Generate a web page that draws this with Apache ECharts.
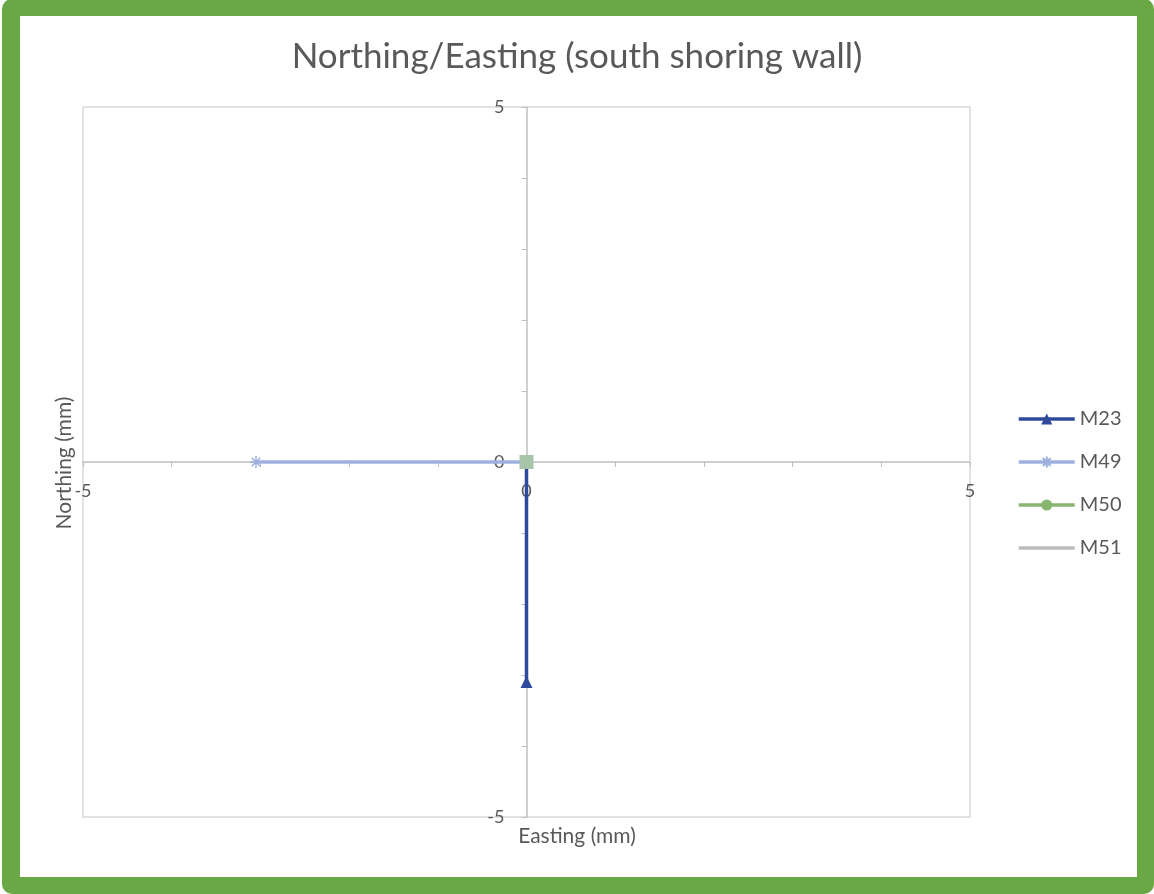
<!DOCTYPE html>
<html>
<head>
<meta charset="utf-8">
<script src="https://cdn.jsdelivr.net/npm/echarts@6/dist/echarts.min.js"></script>
<style>
  html, body { margin: 0; padding: 0; background: #ffffff; }
  #chart { position: absolute; left: 0; top: 0; width: 1154px; height: 894px; }
  #frame {
    position: absolute; left: 2px; top: -1px; width: 1152px; height: 895px;
    box-sizing: border-box; border: 17px solid #69a845; border-left-width: 18px;
    border-radius: 10px; pointer-events: none;
  }
</style>
</head>
<body>
<div id="chart"></div>
<div id="frame"></div>
<script>
// Survey prism displacements (Easting, Northing) in mm
const seriesNames = ['M23', 'M49', 'M50', 'M51'];
const m23 = [[0, 0], [0, -3.1]];
const m49 = [[-3.05, 0], [0, 0]];
const m50 = [[0, 0]];
const m51 = [[0, 0]];
const axisMin = -5, axisMax = 5;
const labelledTicks = [-5, 0, 5];

const txt = '#595959';
const font = 'Lato, "Open Sans", sans-serif';
const starPath = 'path://M5,0 L5,10 M0,5 L10,5 M1.5,1.5 L8.5,8.5 M8.5,1.5 L1.5,8.5';

// plot box
const W = 1154, H = 894;
const G = { left: 83, right: 184, top: 107, bottom: 77 };
const plotW = W - G.left - G.right, plotH = H - G.top - G.bottom;

const chart = echarts.init(document.getElementById('chart'), null, { renderer: 'canvas' });

// labels sit next to the crossing axis lines (at zero), not at the plot edge
function axisCommon(margin) {
  return {
    type: 'value', min: axisMin, max: axisMax, interval: 1,
    axisLine: { show: true, onZero: true, lineStyle: { color: '#bfbfbf', width: 1.5 } },
    axisTick: { show: true, length: 5, lineStyle: { color: '#bfbfbf' } },
    splitLine: { show: false },
    axisLabel: {
      color: txt, fontSize: 18, fontFamily: font, margin: margin,
      formatter: v => labelledTicks.includes(v) ? String(v) : ''
    }
  };
}

const m50Data = m50.map(p => ({ value: p, symbol: 'rect', symbolSize: 14, itemStyle: { color: '#a8c4ab' } }));

// legend entries; M51 is a plain line without a marker
const legendData = seriesNames.map(n => n === 'M51' ? { name: n, itemStyle: { opacity: 0 } } : { name: n });

chart.setOption({
  animation: false,
  backgroundColor: '#ffffff',
  title: {
    text: 'Northing/Easting (south shoring wall)',
    left: 'center', top: 34,
    textStyle: { color: txt, fontSize: 35, fontWeight: 'normal', fontFamily: font }
  },
  grid: {
    left: G.left, right: G.right, top: G.top, bottom: G.bottom,
    show: true, borderColor: '#d9d9d9', borderWidth: 1.5, backgroundColor: 'transparent'
  },
  xAxis: axisCommon(-plotH / 2 + 20),
  yAxis: axisCommon(-plotW / 2 + 22),
  legend: {
    orient: 'vertical', left: 1012, top: 404,
    itemWidth: 56, itemHeight: 14, itemGap: 23,
    textStyle: { color: txt, fontSize: 20, fontFamily: font },
    lineStyle: { width: 3.5 },
    data: legendData
  },
  graphic: [
    { type: 'text', left: 'center', top: 826, x: 0, style: { text: 'Easting (mm)', fill: txt, font: '21px ' + font } },
    { type: 'text', x: 54, y: 463, rotation: Math.PI / 2, style: { text: 'Northing (mm)', fill: txt, font: '21px ' + font, align: 'center', verticalAlign: 'top' } }
  ],
  series: [
    {
      name: 'M23', type: 'line', data: m23, z: 3,
      symbol: 'triangle', symbolSize: 12, showAllSymbol: true,
      lineStyle: { color: '#2e4a9b', width: 3.5 },
      itemStyle: { color: '#2e4a9b' }
    },
    {
      name: 'M49', type: 'line', data: m49, z: 4,
      symbol: starPath, symbolSize: 12,
      lineStyle: { color: '#9db0df', width: 3.5 },
      itemStyle: { color: 'transparent', borderColor: '#9db0df', borderWidth: 1.5 }
    },
    {
      name: 'M50', type: 'line', data: m50Data, z: 5,
      symbol: 'circle', symbolSize: 11,
      lineStyle: { color: '#88b56f', width: 3.5 },
      itemStyle: { color: '#88b56f' }
    },
    {
      name: 'M51', type: 'line', data: m51, z: 6,
      symbol: 'none',
      lineStyle: { color: '#bcbcbc', width: 3.5 },
      itemStyle: { color: '#bcbcbc' }
    }
  ]
});
</script>
</body>
</html>
